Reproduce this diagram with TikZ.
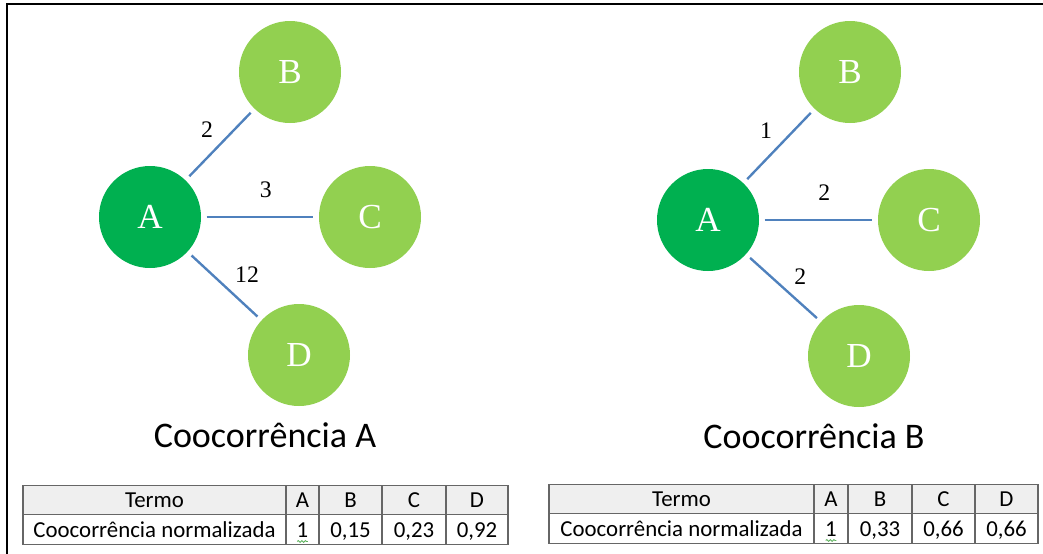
\documentclass[tikz,border=0pt]{standalone}
\usepackage{fontspec}
\setmainfont{Liberation Serif}
\newfontfamily\calibri{Carlito}
\usetikzlibrary{positioning, decorations.pathmorphing}

\definecolor{darkgreen}{HTML}{00B050}
\definecolor{lightgreen}{HTML}{92D050}
\definecolor{edgeblue}{HTML}{4F81BD}
\definecolor{headgray}{HTML}{EFEFEF}
\definecolor{spellgreen}{HTML}{5FB35F}

\begin{document}
\begin{tikzpicture}[
      node distance=0pt,
      main/.style  ={circle, fill=darkgreen, text=white, minimum size=2.04cm,
                     inner sep=0pt, font=\fontsize{20}{24}\selectfont},
      term/.style  ={main, fill=lightgreen},
      link/.style  ={draw=edgeblue, line width=1.35pt,
                     shorten <=3pt, shorten >=3pt},
      weight/.style={font=\fontsize{13.5}{15}\selectfont},
      title/.style ={anchor=base, font=\calibri\fontsize{20.5}{24}\selectfont},
      cell/.style  ={rectangle, draw=black!60, line width=0.6pt, outer sep=0pt,
                     inner sep=0pt, minimum height=0.59cm, text height=2.2ex,
                     text depth=0.3ex, font=\calibri\fontsize{13}{15}\selectfont},
      head/.style  ={cell, fill=headgray},
      spell/.style ={draw=spellgreen, line width=0.5pt, decorate,
                     decoration={snake, amplitude=0.5pt, segment length=2pt}}
    ]
    \useasboundingbox (0,0) rectangle (20.86,-11.08);
    \draw[line width=0.8pt] (20.86,-0.08) -- (0.14,-0.08) -- (0.14,-11.08);

    % first graph
    \node[main] (aA) at (3.00,-4.34)  {A};
    \node[term] (aB) at (5.80,-1.44)  {B};
    \node[term] (aC) at (7.40,-4.34)  {C};
    \node[term] (aD) at (5.98,-7.10)  {D};

    \draw[link] (aA) -- node[weight, above left]            {2}  (aB);
    \draw[link] (aA) -- node[weight, above=7pt, pos=0.55]  {3}  (aC);
    \draw[link] (aA) -- node[weight, above right, pos=0.55] {12} (aD);

    \node[title] (titleA) at (5.30,-8.94) {Coocorrência A};

    % second graph
    \node[main] (bA) at (14.16,-4.40) {A};
    \node[term] (bB) at (17.00,-1.44) {B};
    \node[term] (bC) at (18.58,-4.40) {C};
    \node[term] (bD) at (17.18,-7.12) {D};

    \draw[link] (bA) -- node[weight, above left]            {1} (bB);
    \draw[link] (bA) -- node[weight, above=7pt, pos=0.55]  {2} (bC);
    \draw[link] (bA) -- node[weight, above right, pos=0.55] {2} (bD);

    \node[title] (titleB) at (16.28,-8.96) {Coocorrência B};

    % table under the first graph
    \node[head, minimum width=5.26cm] (ta0) at (3.09,-10.00) {Termo};
    \node[head, minimum width=0.66cm, right=of ta0] (ta1) {A};
    \node[head, minimum width=1.26cm, right=of ta1] (ta2) {B};
    \node[head, minimum width=1.28cm, right=of ta2] (ta3) {C};
    \node[head, minimum width=1.24cm, right=of ta3] (ta4) {D};
    \node[cell, minimum width=5.26cm, below=of ta0] (tb0) {Coocorrência normalizada};
    \node[cell, minimum width=0.66cm, right=of tb0] (tb1) {1};
    \node[cell, minimum width=1.26cm, right=of tb1] (tb2) {0,15};
    \node[cell, minimum width=1.28cm, right=of tb2] (tb3) {0,23};
    \node[cell, minimum width=1.24cm, right=of tb3] (tb4) {0,92};
    \draw[spell] ([xshift=-3pt, yshift=1.6pt]tb1.south) -- ([xshift=3pt, yshift=1.6pt]tb1.south);

    % table under the second graph
    \node[head, minimum width=5.30cm] (ua0) at (13.63,-9.98) {Termo};
    \node[head, minimum width=0.68cm, right=of ua0] (ua1) {A};
    \node[head, minimum width=1.28cm, right=of ua1] (ua2) {B};
    \node[head, minimum width=1.26cm, right=of ua2] (ua3) {C};
    \node[head, minimum width=1.26cm, right=of ua3] (ua4) {D};
    \node[cell, minimum width=5.30cm, below=of ua0] (ub0) {Coocorrência normalizada};
    \node[cell, minimum width=0.68cm, right=of ub0] (ub1) {1};
    \node[cell, minimum width=1.28cm, right=of ub1] (ub2) {0,33};
    \node[cell, minimum width=1.26cm, right=of ub2] (ub3) {0,66};
    \node[cell, minimum width=1.26cm, right=of ub3] (ub4) {0,66};
    \draw[spell] ([xshift=-3pt, yshift=1.6pt]ub1.south) -- ([xshift=3pt, yshift=1.6pt]ub1.south);
\end{tikzpicture}
\end{document}
